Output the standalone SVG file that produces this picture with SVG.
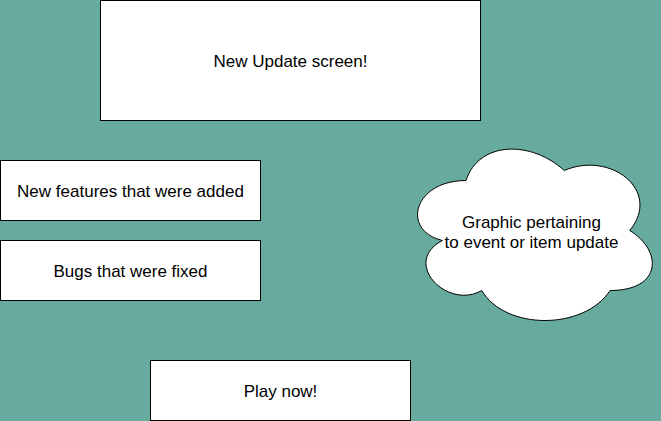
<svg xmlns="http://www.w3.org/2000/svg" width="661" height="421" viewBox="0 0 661 421">
  <style>
    .box { fill: #ffffff; stroke: #000000; stroke-width: 1; }
    .label { font-family: "Liberation Sans", Arial, Helvetica, sans-serif; font-size: 17px; fill: #000000; text-anchor: middle; }
  </style>
  <rect x="0" y="0" width="661" height="421" fill="#67AB9F"/>
  <g id="connectors"/>
  <g transform="translate(0.5,0.5)">
    <g id="title">
      <rect class="box" x="100" y="0" width="380" height="120"/>
      <text class="label" x="290" y="66">New Update screen!</text>
    </g>
    <g id="features">
      <rect class="box" x="0" y="160" width="260" height="60"/>
      <text class="label" x="130" y="196">New features that were added</text>
    </g>
    <g id="bugs">
      <rect class="box" x="0" y="240" width="260" height="60"/>
      <text class="label" x="130" y="276">Bugs that were fixed</text>
    </g>
    <g id="graphic">
      <path class="box" d="M465.5,180 C413.1,180 400,230 441.92,240 C400,262 447.16,310 481.22,290 C504.8,330 583.4,330 609.6,290 C662,290 662,250 629.25,230 C662,190 609.6,150 563.75,170 C531,140 478.6,140 465.5,180 Z"/>
      <text class="label" x="531" y="227">Graphic pertaining</text>
      <text class="label" x="531" y="247">to event or item update</text>
    </g>
    <g id="play">
      <rect class="box" x="150" y="360" width="260" height="60"/>
      <text class="label" x="280" y="396">Play now!</text>
    </g>
  </g>
</svg>
